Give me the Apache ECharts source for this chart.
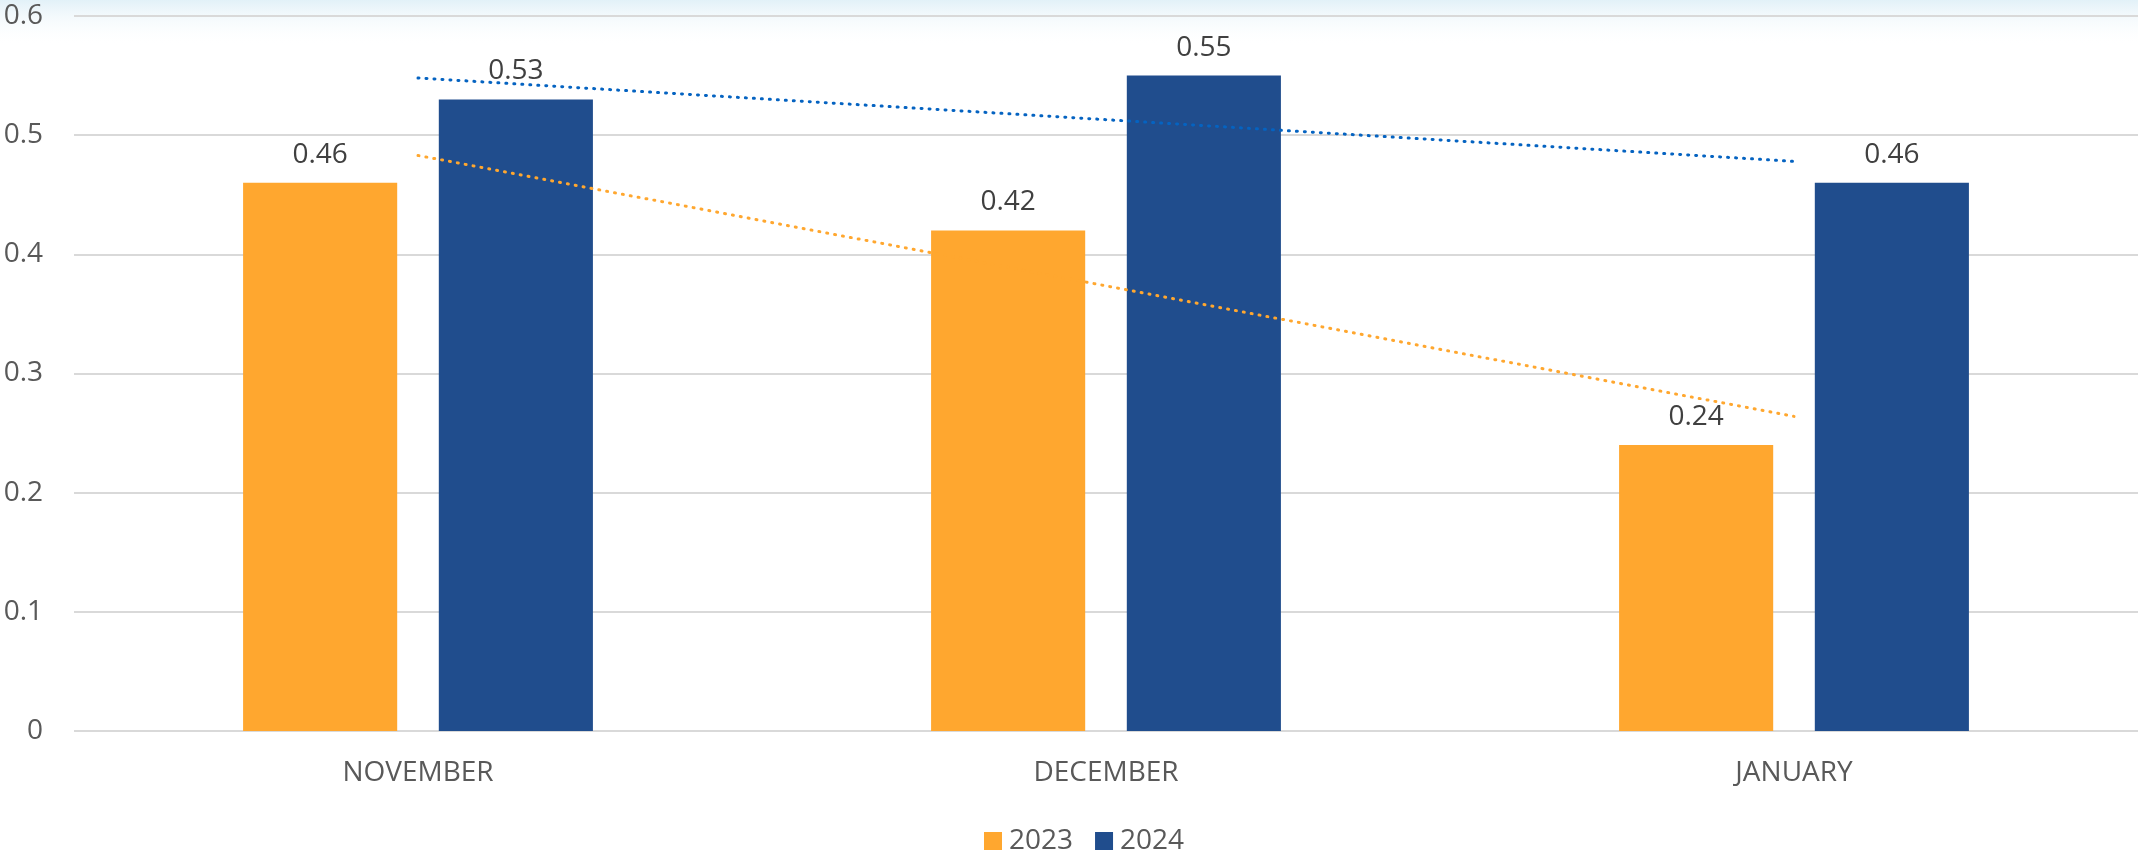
<!DOCTYPE html>
<html>
<head>
<meta charset="utf-8">
<script src="https://cdn.jsdelivr.net/npm/echarts@6/dist/echarts.min.js"></script>
<style>
html, body { margin: 0; padding: 0; background: #fff; }
#chart { width: 2138px; height: 852px; }
</style>
</head>
<body>
<div id="chart"></div>
<script>
// 月份
var months = ['NOVEMBER', 'DECEMBER', 'JANUARY'];
// 柱状数据
var values2023 = [0.46, 0.42, 0.24];
var values2024 = [0.53, 0.55, 0.46];
// 趋势线 (只有首尾两点, 中间为空)
var trend2023 = [0.483, null, 0.264];
var trend2024 = [0.548, null, 0.478];
var yTicks = { min: 0, max: 0.6, interval: 0.1 };

var chart = echarts.init(document.getElementById('chart'));
var font = 'Open Sans';

var option = {
    backgroundColor: '#fff',
    animation: false,
    graphic: [{
        type: 'rect',
        z: -10,
        silent: true,
        shape: { x: 0, y: 0, width: 2138, height: 46 },
        style: {
            fill: new echarts.graphic.LinearGradient(0, 0, 0, 1, [
                { offset: 0, color: '#e2f1f8' },
                { offset: 1, color: 'rgba(255,255,255,0)' }
            ])
        }
    }],
    grid: { left: 74, right: 0, top: 16, bottom: 121 },
    legend: {
        left: 979,
        top: 822,
        icon: 'rect',
        itemWidth: 18,
        itemHeight: 18,
        itemGap: 22,
        data: ['2023', '2024'],
        textStyle: { color: '#595959', fontSize: 28, fontFamily: font, padding: [0, 0, 0, 2] }
    },
    xAxis: {
        type: 'category',
        data: months,
        axisLine: { show: false },
        axisTick: { show: false },
        axisLabel: { color: '#595959', fontSize: 28, fontFamily: font, margin: 28 }
    },
    yAxis: {
        type: 'value',
        min: yTicks.min,
        max: yTicks.max,
        interval: yTicks.interval,
        axisLabel: {
            color: '#595959', fontSize: 28, fontFamily: font, margin: 31,
            formatter: function (v) { return String(Math.round(v * 10) / 10); }
        },
        splitLine: { lineStyle: { color: '#d9d9d9', width: 2 } }
    },
    series: [
        {
            name: '2023',
            type: 'bar',
            data: values2023,
            barWidth: '22.4%',
            barGap: '27%',
            itemStyle: { color: '#ffa72f' },
            label: { show: true, position: 'top', distance: 14, color: '#404040', fontSize: 28, fontFamily: font }
        },
        {
            name: '2024',
            type: 'bar',
            data: values2024,
            barWidth: '22.4%',
            barGap: '27%',
            itemStyle: { color: '#204d8d' },
            label: { show: true, position: 'top', distance: 14, color: '#404040', fontSize: 28, fontFamily: font }
        },
        {
            name: 'trend2023',
            type: 'line',
            data: trend2023,
            connectNulls: true,
            symbol: 'none',
            z: 5,
            lineStyle: { color: '#ffa72f', width: 3, type: [1, 7], cap: 'round' }
        },
        {
            name: 'trend2024',
            type: 'line',
            data: trend2024,
            connectNulls: true,
            symbol: 'none',
            z: 5,
            lineStyle: { color: '#0563c1', width: 3, type: [1, 7], cap: 'round' }
        }
    ]
};
chart.setOption(option);
window.addEventListener('resize', function () {
    chart.resize();
});
</script>
</body>
</html>
